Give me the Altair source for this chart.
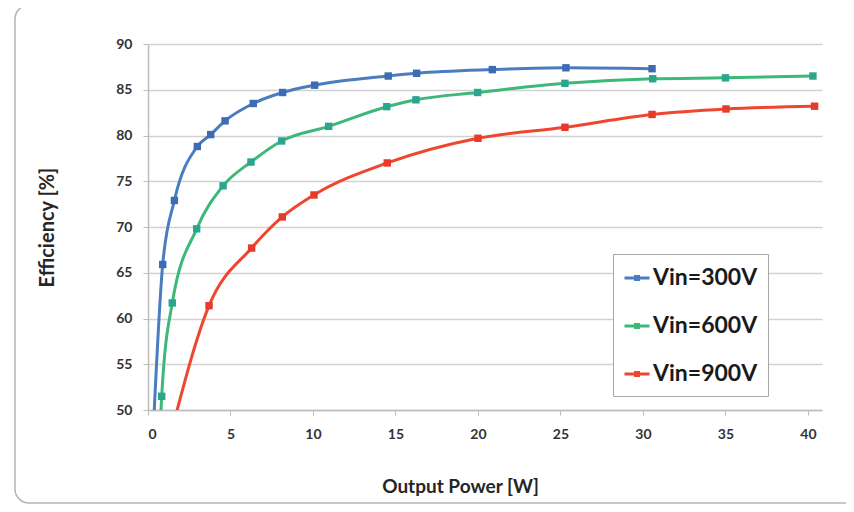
import altair as alt
import pandas as pd

series_names = ["Vin=300V", "Vin=600V", "Vin=900V"]

# Output power [W] and efficiency [%] (first point of each lies below the axis, clipped)
x_300 = [0.30, 0.89, 1.60, 2.99, 3.80, 4.67, 6.38, 8.16, 10.10, 14.56, 16.28, 20.87, 25.33, 30.55]
y_300 = [47.0, 65.9, 72.9, 78.8, 80.1, 81.6, 83.5, 84.7, 85.5, 86.5, 86.8, 87.2, 87.4, 87.3]

x_600 = [0.70, 0.83, 1.47, 2.95, 4.55, 6.24, 8.10, 10.95, 14.47, 16.24, 19.98, 25.27, 30.59, 35.00, 40.30]
y_600 = [46.0, 51.5, 61.7, 69.8, 74.5, 77.1, 79.4, 81.0, 83.15, 83.9, 84.7, 85.7, 86.2, 86.3, 86.5]

x_900 = [1.40, 3.70, 6.28, 8.14, 10.06, 14.50, 20.00, 25.27, 30.55, 35.03, 40.40]
y_900 = [47.5, 61.4, 67.7, 71.1, 73.5, 77.0, 79.7, 80.9, 82.3, 82.9, 83.2]

x_ticks = [0, 5, 10, 15, 20, 25, 30, 35, 40]
y_ticks = [50, 55, 60, 65, 70, 75, 80, 85, 90]

line_colors = ["#4a7cc0", "#3cb878", "#ef4630"]
marker_colors = ["#3c6cb3", "#2aa68e", "#e63a2a"]

rows = []
for name, xs, ys in zip(series_names, [x_300, x_600, x_900], [y_300, y_600, y_900]):
    for i, (xv, yv) in enumerate(zip(xs, ys)):
        rows.append({"series": name, "power": xv, "eff": yv, "order": i})
df = pd.DataFrame(rows)

FONT = "Lato"

xenc = alt.X("power:Q", scale=alt.Scale(domain=[0, 40.85], nice=False, zero=False),
             axis=alt.Axis(values=x_ticks, title="Output Power [W]", grid=False,
                           labelFont=FONT, labelFontWeight="bold", labelFontSize=14, labelColor="#333333",
                           labelPadding=12, tickSize=5, tickColor="#bdbdbd", domainColor="#bdbdbd",
                           domainWidth=1.5, titleFont=FONT, titleFontWeight="bold", titleFontSize=19,
                           titleColor="#262626", titleX=312, titleY=67, titleAlign="center"))
yenc = alt.Y("eff:Q", scale=alt.Scale(domain=[50, 90], nice=False, zero=False),
             axis=alt.Axis(values=y_ticks, title="Efficiency [%]", grid=True, gridColor="#d2d2d2",
                           gridWidth=1.5, labelFont=FONT, labelFontWeight="bold", labelFontSize=14,
                           labelColor="#333333", labelPadding=11, tickSize=5, tickColor="#bdbdbd",
                           domainColor="#bdbdbd", domainWidth=1.5, titleFont=FONT, titleFontWeight="bold",
                           titleFontSize=20, titleColor="#262626", titleX=-91, titleY=183,
                           titleAlign="center", titleAngle=270))

legend_path = "M-1,0H1M-0.12,-0.12H0.12V0.12H-0.12Z"

lines = alt.Chart(df).mark_line(interpolate="monotone", strokeWidth=3, clip=True).encode(
    x=xenc, y=yenc,
    order="order:Q",
    color=alt.Color("series:N", sort=series_names,
                    scale=alt.Scale(domain=series_names, range=line_colors),
                    legend=alt.Legend(title=None, orient="none", legendX=465, legendY=210,
                                      symbolType=legend_path, symbolSize=625, symbolStrokeWidth=3,
                                      labelFont=FONT, labelFontWeight="bold", labelFontSize=23,
                                      labelColor="#1a1a1a", labelLimit=300, rowPadding=22,
                                      padding=10, strokeColor="#a8a8a8", fillColor="white",
                                      labelOffset=2)),
)

points = alt.Chart(df).mark_point(shape="square", filled=True, size=55, opacity=1, clip=True).encode(
    x=xenc, y=yenc,
    color=alt.Color("series:N", sort=series_names,
                    scale=alt.Scale(domain=series_names, range=marker_colors), legend=None),
)

frame = alt.Chart(pd.DataFrame({"a": [0]})).mark_rect(
    fill="transparent", stroke="#b5b5b5", strokeWidth=1.5, cornerRadius=14, clip=False
).encode(x=alt.value(-133), x2=alt.value(740), y=alt.value(-39), y2=alt.value(459))

chart = alt.layer(frame, lines, points).resolve_scale(color="independent").properties(
    width=674, height=366,
    autosize=alt.AutoSizeParams(type="none"),
    padding={"left": 140, "top": 36, "right": 24, "bottom": 94},
    background="white",
).configure_view(stroke=None)

chart.save("out.html", embed_options={"renderer": "svg", "actions": False})
